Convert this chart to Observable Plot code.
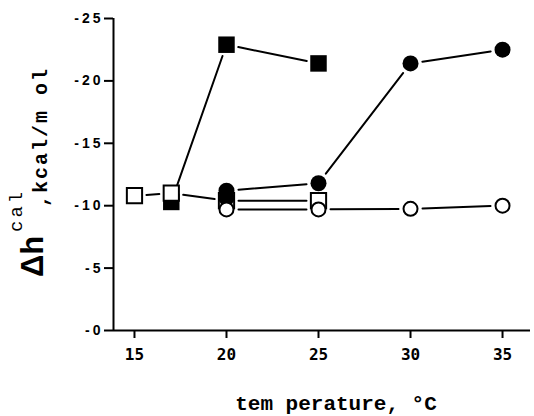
<!DOCTYPE html>
<html>
<head>
<meta charset="utf-8">
<script src="https://cdn.jsdelivr.net/npm/d3@7"></script>
<script src="https://cdn.jsdelivr.net/npm/@observablehq/plot@0.6"></script>
<style>
  html, body { margin: 0; padding: 0; background: #fff; }
  #chart { width: 534px; height: 416px; }
</style>
</head>
<body>
<div id="chart"></div>
<script>
// Temperatures (°C) and Δh^cal (kcal/mol) per series
const filledSquareT = [17, 20, 25];
const filledSquareH = [-10.3, -22.9, -21.4];
const openSquareT = [15, 17, 20, 25];
const openSquareH = [-10.8, -11.0, -10.4, -10.4];
const filledCircleT = [20, 25, 30, 35];
const filledCircleH = [-11.2, -11.8, -21.4, -22.5];
const extraCircleT = [20];
const extraCircleH = [-10.6];
const openCircleT = [20, 25, 30, 35];
const openCircleH = [-9.7, -9.7, -9.75, -10.0];

const xTicks = [15, 20, 25, 30, 35];
const yTicks = [0, -5, -10, -15, -20, -25];
const yTickLabels = ["-0", "-5", "-10", "-15", "-20", "-25"];

const xDomain = [13.86, 36.52];
const yDomain = [0, -25];

const pts = (T, H) => T.map((t, i) => ({t, h: H[i]}));
const segs = (T, H) => T.slice(1).map((t, i) => ({t1: T[i], h1: H[i], t2: t, h2: H[i + 1]}));

const allSegs = [
  ...segs(filledSquareT, filledSquareH),
  ...segs(openSquareT, openSquareH),
  ...segs(filledCircleT, filledCircleH),
  ...segs(openCircleT, openCircleH)
];

const plot = Plot.plot({
  width: 534,
  height: 416,
  marginLeft: 113,
  marginRight: 4,
  marginTop: 18,
  marginBottom: 86,
  x: {domain: xDomain},
  y: {domain: yDomain},
  style: {fontFamily: "Liberation Sans, Arial, sans-serif", background: "white", color: "black"},
  marks: [
    Plot.axisY({
      ticks: yTicks,
      tickFormat: d => yTickLabels[yTicks.indexOf(d)],
      tickSize: 9,
      tickPadding: 1,
      strokeWidth: 2,
      fontSize: 14,
      fontWeight: "bold",
      label: null
    }),
    Plot.axisX({
      ticks: xTicks,
      tickSize: 8,
      tickPadding: 10,
      strokeWidth: 2,
      fontSize: 16,
      fontWeight: "bold",
      fontFamily: "DejaVu Sans Mono, monospace",
      label: null
    }),
    Plot.ruleX([xDomain[0]], {strokeWidth: 2}),
    Plot.ruleY([0], {strokeWidth: 2}),
    Plot.arrow(allSegs, {x1: "t1", y1: "h1", x2: "t2", y2: "h2", headLength: 0, inset: 12, stroke: "black", strokeWidth: 2}),
    Plot.dot(pts(filledSquareT, filledSquareH), {x: "t", y: "h", symbol: "square", r: 9.3, fill: "black", stroke: "none"}),
    Plot.dot(pts(openSquareT, openSquareH), {x: "t", y: "h", symbol: "square", r: 8.6, fill: "white", stroke: "black", strokeWidth: 2}),
    Plot.dot(pts(filledCircleT, filledCircleH), {x: "t", y: "h", symbol: "circle", r: 8, fill: "black", stroke: "none"}),
    Plot.dot(pts(extraCircleT, extraCircleH), {x: "t", y: "h", symbol: "circle", r: 8, fill: "black", stroke: "none"}),
    Plot.dot(pts(openCircleT, openCircleH), {x: "t", y: "h", symbol: "circle", r: 7, fill: "white", stroke: "black", strokeWidth: 2})
  ]
});

const svg = d3.select(plot);
svg.selectAll("[aria-label^='y-axis tick label'] text")
  .style("letter-spacing", "3px");

// Y axis title: Δh^cal ,kcal/m ol
const mono = "Liberation Mono, DejaVu Sans Mono, monospace";
svg.append("text")
  .attr("transform", "translate(43,277) rotate(-90)")
  .attr("text-anchor", "start")
  .attr("font-family", "Liberation Sans, sans-serif")
  .attr("font-weight", "bold")
  .attr("font-size", 31)
  .attr("fill", "black")
  .text("Δh");
svg.append("text")
  .attr("transform", "translate(22,232) rotate(-90)")
  .attr("text-anchor", "start")
  .attr("font-family", mono)
  .attr("font-size", 19)
  .attr("fill", "black")
  .style("letter-spacing", "3px")
  .text("cal");
svg.append("text")
  .attr("transform", "translate(47,207) rotate(-90)")
  .attr("text-anchor", "start")
  .attr("font-family", mono)
  .attr("font-weight", "bold")
  .attr("font-size", 20)
  .attr("fill", "black")
  .style("letter-spacing", "2px")
  .text(",kcal/m ol");

// X axis title
svg.append("text")
  .attr("x", 336)
  .attr("y", 410)
  .attr("text-anchor", "middle")
  .attr("font-family", mono)
  .attr("font-weight", "bold")
  .attr("font-size", 21)
  .attr("fill", "black")
  .text("tem perature, °C");

document.getElementById("chart").appendChild(plot);
</script>
</body>
</html>
